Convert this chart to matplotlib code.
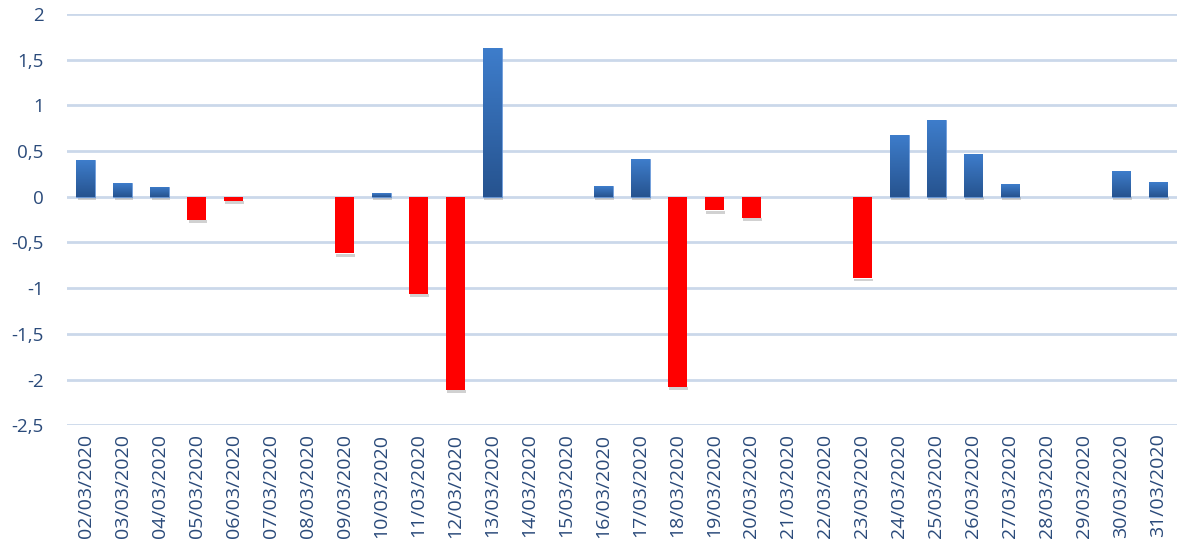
import numpy as np
import matplotlib
matplotlib.use('Agg')
from matplotlib import pyplot as plt
from matplotlib.colors import LinearSegmentedColormap

dates = ['%02d/03/2020' % d for d in range(2, 32)]
values = [0.40, 0.15, 0.11, -0.25, -0.045, 0, 0, -0.62, 0.04, -1.06,
          -2.11, 1.63, 0, 0, 0.12, 0.41, -2.08, -0.15, -0.23, 0, 0,
          -0.89, 0.68, 0.84, 0.47, 0.14, 0, 0, 0.28, 0.16]
y_ticks = [2, 1.5, 1, 0.5, 0, -0.5, -1, -1.5, -2, -2.5]

plt.rcParams['font.family'] = ['Open Sans', 'DejaVu Sans']
plt.rcParams['axes.unicode_minus'] = False
text_color = '#2a4a7a'
blue_cmap = LinearSegmentedColormap.from_list('bl', ['#26538f', '#3e7dcb'])

fig = plt.figure(figsize=(11.79, 5.58), dpi=100)
ax = fig.add_axes([0.057, 0.238, 0.941, 0.737])

x = np.arange(len(dates))
w = 0.5
# soft shadow under each bar
for xi, v in zip(x, values):
    if v == 0:
        continue
    base = min(v, 0)
    ax.bar(xi + 0.03, 0.03, w, bottom=base - 0.035, color='#9a9a9a',
           alpha=0.45, zorder=2, linewidth=0)

bars = ax.bar(x, values, w, zorder=3, linewidth=0)
grad = np.linspace(0, 1, 100).reshape(-1, 1)
for b, v in zip(bars, values):
    if v > 0:
        b.set_facecolor('none')
        b.set_edgecolor('#5b8fd6')
        b.set_linewidth(0.6)
        img = ax.imshow(grad, extent=[b.get_x(), b.get_x() + w, 0, v],
                        origin='lower', cmap=blue_cmap, aspect='auto', zorder=3)
        img.set_clip_path(b)
    elif v < 0:
        b.set_facecolor('#ff0000')

ax.set_xlim(-0.5, len(dates) - 0.5)
ax.set_ylim(-2.5, 2)
ax.set_yticks(y_ticks)
ax.set_yticklabels([('%g' % t).replace('.', ',') for t in y_ticks])
ax.set_xticks(x)
ax.set_xticklabels(dates, rotation=90)
ax.grid(axis='y', color='#cbd8ea', linewidth=2)
ax.set_axisbelow(True)
for s in ax.spines.values():
    s.set_visible(False)
ax.tick_params(length=0, colors=text_color)
ax.tick_params(axis='y', pad=17, labelsize=13.5)
ax.tick_params(axis='x', pad=6, labelsize=14)

fig.savefig('out.png', dpi=100)
